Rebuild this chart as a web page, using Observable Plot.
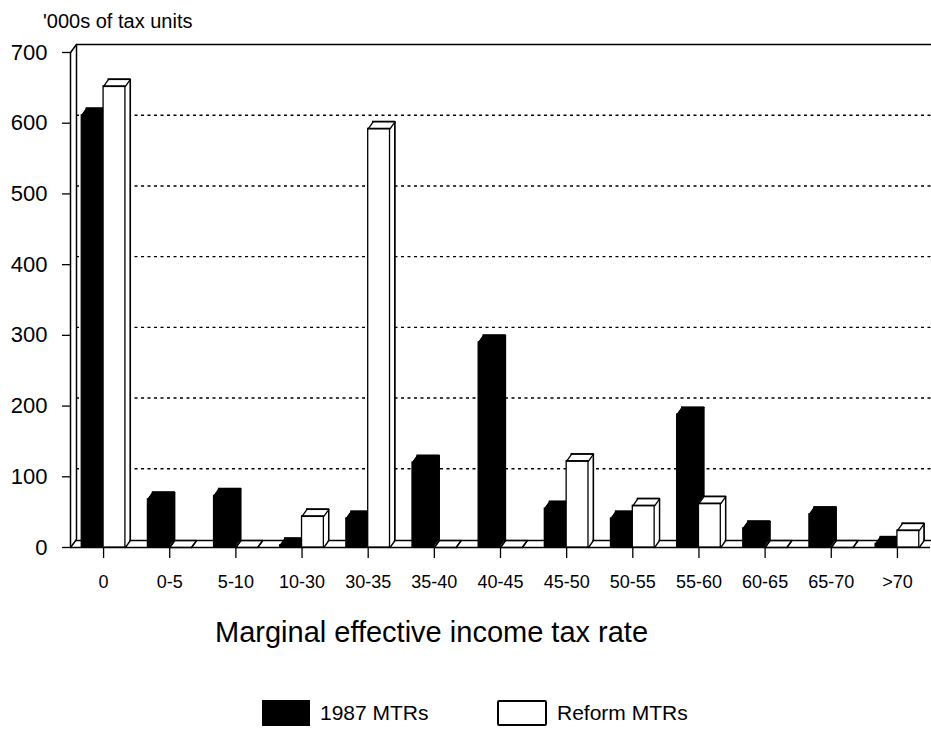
<!DOCTYPE html>
<html>
<head>
<meta charset="utf-8">
<script src="https://cdn.jsdelivr.net/npm/d3@7"></script>
<script src="https://cdn.jsdelivr.net/npm/@observablehq/plot@0.6"></script>
<style>
  body { margin: 0; background: #fff; }
  #page { position: relative; width: 931px; height: 730px; font-family: "Liberation Sans", Arial, sans-serif; color: #000; }
  #unit { position: absolute; left: 43px; top: 9px; font-size: 20px; line-height: 24px; }
  #chart { position: absolute; left: 0; top: 36px; }
  #xtitle { position: absolute; left: 215px; top: 614px; font-size: 29px; line-height: 36px; white-space: nowrap; }
  .key { position: absolute; top: 700px; height: 26px; box-sizing: border-box; }
  .keytext { position: absolute; top: 699px; font-size: 21px; line-height: 28px; }
</style>
</head>
<body>
<div id="page">
  <div id="unit">'000s of tax units</div>
  <div id="chart"></div>
  <div id="xtitle">Marginal effective income tax rate</div>
  <div class="key" style="left:262px;width:48px;background:#000;"></div>
  <div class="keytext" style="left:320px;">1987 MTRs</div>
  <div class="key" style="left:497px;width:50px;border:2px solid #000;border-radius:2px;background:#fff;"></div>
  <div class="keytext" style="left:557px;">Reform MTRs</div>
</div>
<script>
// Marginal effective income tax rate bands (per cent)
const rateBands = ["0", "0-5", "5-10", "10-30", "30-35", "35-40", "40-45", "45-50", "50-55", "55-60", "60-65", "65-70", ">70"];
// Tax units in each band, thousands
const mtr1987 = [611, 68, 73, 3, 41, 120, 290, 55, 41, 188, 27, 47, 5];
const mtrReform = [652, 0, 0, 44, 592, 0, 0, 122, 59, 62, 0, 0, 24];
const seriesNames = ["1987 MTRs", "Reform MTRs"];
const seriesFills = ["#000", "#fff"];
const yTicks = [0, 100, 200, 300, 400, 500, 600, 700];
const gridValues = [100, 200, 300, 400, 500, 600];

// Pseudo-3D depth of the boxes, in pixels
const DX = 5, DY = -7;
const WALL_DX = 6, WALL_DY = -8;
const barWidth = 0.33; // fraction of a band step taken by each bar

const rows = rateBands.flatMap((band, i) => [
  {band, series: seriesNames[0], x1: i - barWidth, x2: i, base: 0, value: mtr1987[i]},
  {band, series: seriesNames[1], x1: i, x2: i + barWidth, base: 0, value: mtrReform[i]}
]);

// A plain line segment for the receding edges of each box
const edge = {draw(context, l) { context.moveTo(0, 0); context.lineTo(0, -l); }};
const edgeLen = Math.hypot(DX, DY);
const edgeAngle = Math.atan2(DX, -DY) * 180 / Math.PI;
const wallLen = Math.hypot(WALL_DX, WALL_DY);
const wallAngle = Math.atan2(WALL_DX, -WALL_DY) * 180 / Math.PI;

function boxes(data, fill) {
  const marks = [];
  const sw = 1.3;
  // rear face, then fill sweeps that form the top and side faces
  marks.push(Plot.rect(data, {x1: "x1", x2: "x2", y1: "base", y2: "value", fill, stroke: "#000", strokeWidth: sw, dx: DX, dy: DY}));
  for (let k = 9; k >= 1; k--) {
    const t = k / 10;
    marks.push(Plot.rect(data, {x1: "x1", x2: "x2", y1: "base", y2: "value", fill, dx: DX * t, dy: DY * t}));
  }
  // front face
  marks.push(Plot.rect(data, {x1: "x1", x2: "x2", y1: "base", y2: "value", fill, stroke: "#000", strokeWidth: sw}));
  // top edges (also outline zero-height slabs)
  marks.push(Plot.ruleY(data, {x1: "x1", x2: "x2", y: "value", stroke: "#000", strokeWidth: sw}));
  marks.push(Plot.ruleY(data, {x1: "x1", x2: "x2", y: "value", stroke: "#000", strokeWidth: sw, dx: DX, dy: DY}));
  marks.push(Plot.ruleX(data, {x: "x2", y1: "base", y2: "value", stroke: "#000", strokeWidth: sw, dx: DX, dy: DY}));
  // receding edges at the corners
  for (const [xk, yk] of [["x1", "value"], ["x2", "value"], ["x2", "base"]]) {
    marks.push(Plot.vector(data, {x: xk, y: yk, length: edgeLen, rotate: edgeAngle, anchor: "start", shape: edge, stroke: "#000", strokeWidth: sw}));
  }
  return marks;
}

const chart = Plot.plot({
  width: 931,
  height: 564,
  marginTop: 16,
  marginBottom: 53,
  marginLeft: 70,
  marginRight: 1,
  style: {fontFamily: "'Liberation Sans', Arial, sans-serif", color: "#000", background: "#fff", overflow: "hidden"},
  x: {type: "linear", domain: [-0.5, 12.5]},
  y: {domain: [0, 700]},
  marks: [
    // back wall: dotted gridlines and top edge
    Plot.ruleY(gridValues, {x1: -0.5, x2: 12.5, dx: WALL_DX, dy: WALL_DY, stroke: "#000", strokeWidth: 1.4, strokeDasharray: "3,3.5"}),
    Plot.ruleY([700], {x1: -0.5, x2: 12.5, dx: WALL_DX, dy: WALL_DY, stroke: "#000", strokeWidth: 1.5}),
    // left wall
    Plot.ruleX([-0.5], {y1: 0, y2: 700, stroke: "#000", strokeWidth: 1.5}),
    Plot.ruleX([-0.5], {y1: 0, y2: 700, dx: WALL_DX, dy: WALL_DY, stroke: "#000", strokeWidth: 1.5}),
    Plot.vector([700, 0], {x: () => -0.5, y: d => d, length: wallLen, rotate: wallAngle, anchor: "start", shape: edge, stroke: "#000", strokeWidth: 1.5}),
    // floor
    Plot.ruleY([0], {x1: -0.5, x2: 12.5, dx: DX, dy: DY, stroke: "#000", strokeWidth: 1.3}),
    Plot.ruleY([0], {x1: -0.5, x2: 12.5, stroke: "#000", strokeWidth: 1.6}),
    // bars: 1987 first, reform boxes sit in front-right of them
    ...boxes(rows.filter(d => d.series === seriesNames[0]), seriesFills[0]),
    ...boxes(rows.filter(d => d.series === seriesNames[1]), seriesFills[1]),
    Plot.axisY({ticks: yTicks, tickSize: 8, tickPadding: 15, fontSize: 22, label: null, strokeWidth: 1.3}),
    Plot.axisX({ticks: d3.range(rateBands.length), tickFormat: i => rateBands[i], tickSize: 11, tickPadding: 17, fontSize: 18, label: null, strokeWidth: 1.3})
  ]
});
document.getElementById("chart").appendChild(chart);
</script>
</body>
</html>
